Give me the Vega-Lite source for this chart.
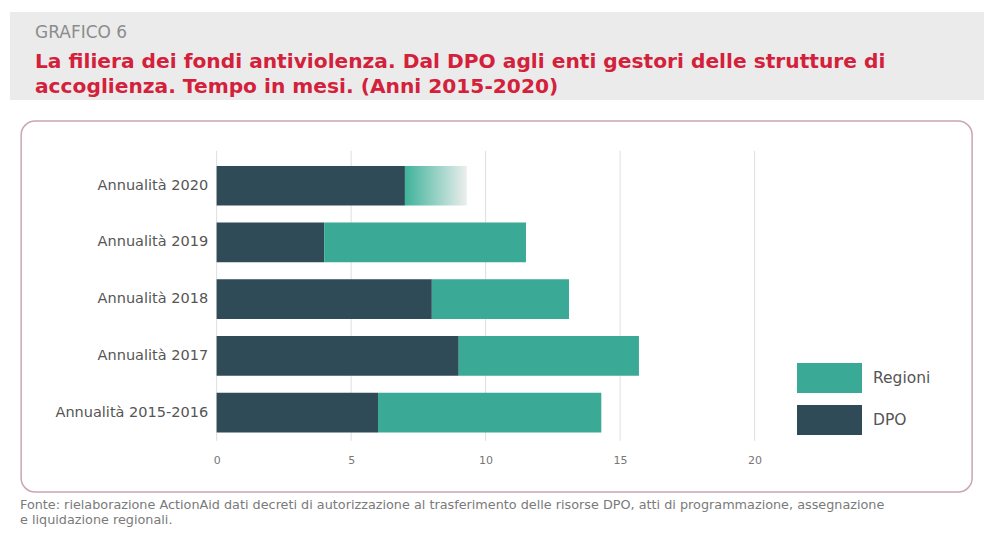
{
  "$schema": "https://vega.github.io/schema/vega-lite/v6.json",
  "padding": {"left": 10, "top": 12, "right": 0, "bottom": 0},
  "background": "#ffffff",
  "center": true,
  "spacing": 20,
  "title": {
    "text": ["Fonte: rielaborazione ActionAid dati decreti di autorizzazione al trasferimento delle risorse DPO, atti di programmazione, assegnazione", "e liquidazione regionali."],
    "orient": "bottom",
    "anchor": "start",
    "frame": "bounds",
    "offset": 6,
    "dx": 10,
    "font": "DejaVu Sans",
    "fontSize": 12.8,
    "fontWeight": "normal",
    "color": "#7a7a7a",
    "lineHeight": 15
  },
  "vconcat": [
    {
      "width": 974,
      "height": 88,
      "view": {"fill": "#ebebeb", "stroke": null},
      "data": {"values": [{"t": ""}]},
      "mark": {"type": "text", "text": ""},
      "encoding": {},
      "title": {
        "text": "GRAFICO 6",
        "subtitle": ["La filiera dei fondi antiviolenza. Dal DPO agli enti gestori delle strutture di", "accoglienza. Tempo in mesi. (Anni 2015-2020)"],
        "orient": "top",
        "anchor": "start",
        "frame": "group",
        "offset": -86,
        "dx": 25,
        "font": "DejaVu Sans",
        "fontSize": 17,
        "fontWeight": "normal",
        "color": "#8c8c8c",
        "subtitleFont": "DejaVu Sans",
        "subtitleFontSize": 20.2,
        "subtitleFontWeight": "bold",
        "subtitleColor": "#d4213b",
        "subtitlePadding": 10,
        "subtitleLineHeight": 25
      }
    },
    {
      "width": 951,
      "height": 371,
      "view": {"stroke": "#c9a7af", "strokeWidth": 1.5, "cornerRadius": 14, "fill": "#ffffff"},
      "layer": [
        {
          "data": {"values": [{"v": 0}, {"v": 5}, {"v": 10}, {"v": 15}, {"v": 20}]},
          "mark": {"type": "rule", "color": "#dedede", "strokeWidth": 1},
          "encoding": {
            "x": {
              "field": "v",
              "type": "quantitative",
              "scale": {"domain": [-7.268, 28.086], "nice": false, "zero": false},
              "axis": {
                "values": [0, 5, 10, 15, 20],
                "grid": false,
                "domain": false,
                "ticks": false,
                "tickSize": 0,
                "offset": -42,
                "labelPadding": 4,
                "labelFontSize": 11,
                "labelColor": "#777777",
                "labelFont": "DejaVu Sans"
              }
            },
            "y": {
              "datum": "Annualità 2020",
              "type": "nominal",
              "bandPosition": -0.38,
              "scale": {"domain": ["Annualità 2020", "Annualità 2019", "Annualità 2018", "Annualità 2017", "Annualità 2015-2016"], "paddingInner": 0.3, "paddingOuter": 0.92, "align": 0.43},
              "axis": {
                "domain": false,
                "ticks": false,
                "tickSize": 0,
                "offset": -195.5,
                "labelPadding": 9,
                "labelFontSize": 14.5,
                "labelColor": "#555555",
                "labelFont": "DejaVu Sans"
              }
            },
            "y2": {"datum": "Annualità 2015-2016", "bandPosition": 1.21}
          }
        },
        {
          "data": {"values": [
            {"anno": "Annualità 2020", "serie": "DPO", "mesi": 7.0, "stima": "no"},
            {"anno": "Annualità 2020", "serie": "Regioni", "mesi": 2.3, "stima": "si"},
            {"anno": "Annualità 2019", "serie": "DPO", "mesi": 4.0, "stima": "no"},
            {"anno": "Annualità 2019", "serie": "Regioni", "mesi": 7.5, "stima": "no"},
            {"anno": "Annualità 2018", "serie": "DPO", "mesi": 8.0, "stima": "no"},
            {"anno": "Annualità 2018", "serie": "Regioni", "mesi": 5.1, "stima": "no"},
            {"anno": "Annualità 2017", "serie": "DPO", "mesi": 9.0, "stima": "no"},
            {"anno": "Annualità 2017", "serie": "Regioni", "mesi": 6.7, "stima": "no"},
            {"anno": "Annualità 2015-2016", "serie": "DPO", "mesi": 6.0, "stima": "no"},
            {"anno": "Annualità 2015-2016", "serie": "Regioni", "mesi": 8.3, "stima": "no"}
          ]},
          "transform": [
            {"stack": "mesi", "groupby": ["anno"], "sort": [{"field": "serie", "order": "ascending"}], "as": ["inizio", "fine"]}
          ],
          "layer": [
            {
              "transform": [{"filter": "datum.stima === 'no'"}],
              "mark": {"type": "bar"},
              "encoding": {
                "y": {"field": "anno", "type": "nominal"},
                "x": {"field": "inizio", "type": "quantitative"},
                "x2": {"field": "fine"},
                "color": {
                  "field": "serie",
                  "type": "nominal",
                  "scale": {"domain": ["Regioni", "DPO"], "range": ["#3aa996", "#2e4b57"]},
                  "legend": {
                    "title": null,
                    "orient": "none",
                    "legendX": 787,
                    "legendY": 350,
                    "padding": 0,
                    "symbolType": "M-1,-0.46H1V0.46H-1Z",
                    "symbolSize": 4225,
                    "symbolStrokeWidth": 0,
                    "clipHeight": 32,
                    "rowPadding": 10,
                    "labelFont": "DejaVu Sans",
                    "labelFontSize": 15.5,
                    "labelColor": "#555555",
                    "labelOffset": 11
                  }
                }
              }
            },
            {
              "transform": [{"filter": "datum.stima === 'si'"}],
              "mark": {
                "type": "bar",
                "color": {
                  "gradient": "linear",
                  "x1": 0, "y1": 0, "x2": 1, "y2": 0,
                  "stops": [
                    {"offset": 0, "color": "#3fb39b"},
                    {"offset": 1, "color": "#eceeed"}
                  ]
                }
              },
              "encoding": {
                "y": {"field": "anno", "type": "nominal"},
                "x": {"field": "inizio", "type": "quantitative"},
                "x2": {"field": "fine"}
              }
            }
          ]
        }
      ],
      "encoding": {}
    }
  ],
  "config": {
    "font": "DejaVu Sans",
    "axis": {"title": null}
  }
}
